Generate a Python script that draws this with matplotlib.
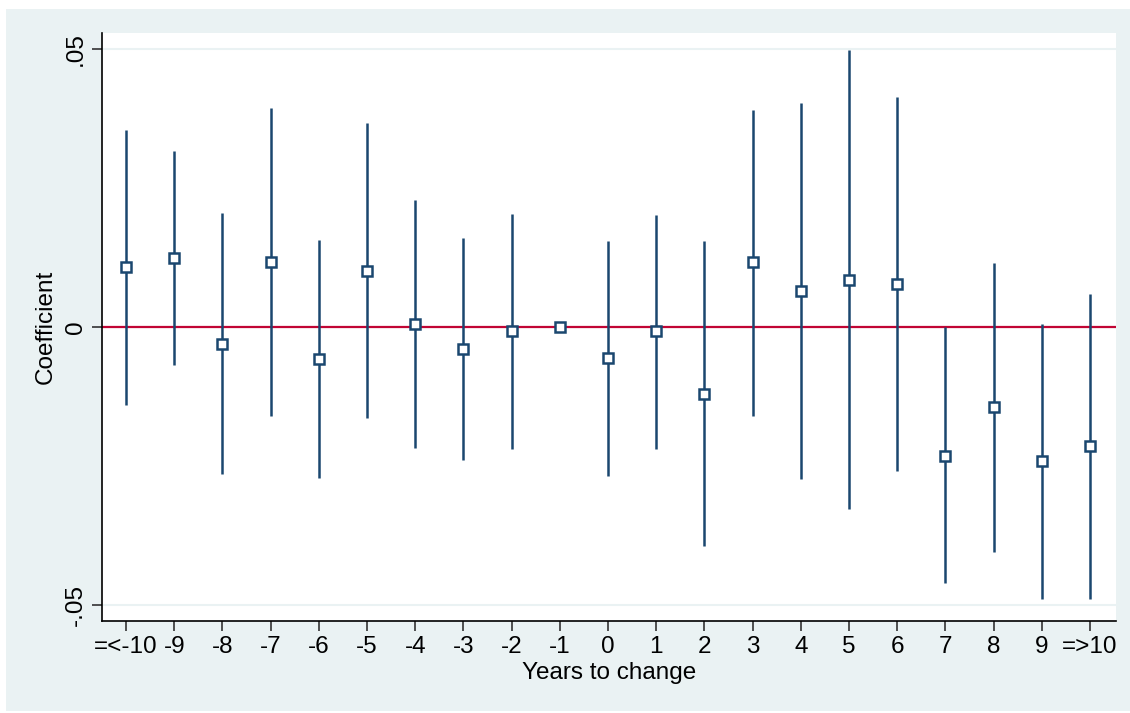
import matplotlib
matplotlib.use("Agg")
import matplotlib.pyplot as plt
from matplotlib.patches import Rectangle
import numpy as np

# Data
labels = ['=<-10', '-9', '-8', '-7', '-6', '-5', '-4', '-3', '-2', '-1',
          '0', '1', '2', '3', '4', '5', '6', '7', '8', '9', '=>10']
coef = [0.0108, 0.0124, -0.0031, 0.0117, -0.0058, 0.0101, 0.0005, -0.0040, -0.0007, 0.0,
        -0.0056, -0.0007, -0.0121, 0.0117, 0.0065, 0.0085, 0.0077, -0.0232, -0.0144, -0.0241, -0.0214]
ci_hi = [0.0354, 0.0317, 0.0205, 0.0394, 0.0156, 0.0367, 0.0228, 0.0160, 0.0203, 0.0,
         0.0155, 0.0201, 0.0155, 0.0390, 0.0403, 0.0498, 0.0414, 0.0, 0.0115, 0.0005, 0.0059]
ci_lo = [-0.0140, -0.0068, -0.0264, -0.0160, -0.0272, -0.0164, -0.0218, -0.0239, -0.0219, 0.0,
         -0.0268, -0.0219, -0.0394, -0.0160, -0.0273, -0.0327, -0.0259, -0.0460, -0.0405, -0.0489, -0.0489]

navy = '#1a476f'
red = '#c10534'
bg = '#eaf2f3'

plt.rcParams['font.family'] = ['Liberation Sans', 'DejaVu Sans']

fig = plt.figure(figsize=(11.3, 7.13), dpi=100, facecolor='white')
fig.patches.append(Rectangle((6 / 1130, 2 / 713), 1 - 6 / 1130, 702 / 713,
                             transform=fig.transFigure, facecolor=bg, edgecolor='none', zorder=-10))
ax = fig.add_axes([102 / 1130, 1 - 621 / 713, (1116 - 102) / 1130, (621 - 33) / 713])
ax.set_facecolor('white')

x = np.arange(len(labels))
# confidence intervals (skip the reference year)
for xi, lo, hi in zip(x, ci_lo, ci_hi):
    if hi != lo:
        ax.plot([xi, xi], [lo, hi], color=navy, lw=1.8, zorder=2, solid_capstyle='butt')

ax.axhline(0, color=red, lw=1.6, zorder=1)
ax.plot(x, coef, ls='none', marker='s', ms=7, mfc='white', mec=navy, mew=1.8, zorder=3)

ax.set_xlim(-0.5, 20.54)
ax.set_ylim(-0.0529, 0.0529)
ax.set_yticks([-0.05, 0, 0.05])
ax.set_yticklabels(['-.05', '0', '.05'], rotation=90, va='center', fontsize=17.5)
ax.set_xticks(x)
ax.set_xticklabels(labels, fontsize=17.5)
ax.grid(axis='y', color=bg, lw=1.5, zorder=0)
ax.set_axisbelow(True)

for s in ['top', 'right']:
    ax.spines[s].set_visible(False)
for s in ['left', 'bottom']:
    ax.spines[s].set_color('black')
    ax.spines[s].set_linewidth(1.2)
ax.tick_params(axis='both', length=7, width=1.2, color='#333333', pad=4)

ax.set_xlabel('Years to change', fontsize=17.5, labelpad=3)
ax.set_ylabel('Coefficient', fontsize=17.5, labelpad=6)

fig.savefig('out.png', dpi=100, facecolor=fig.get_facecolor())
